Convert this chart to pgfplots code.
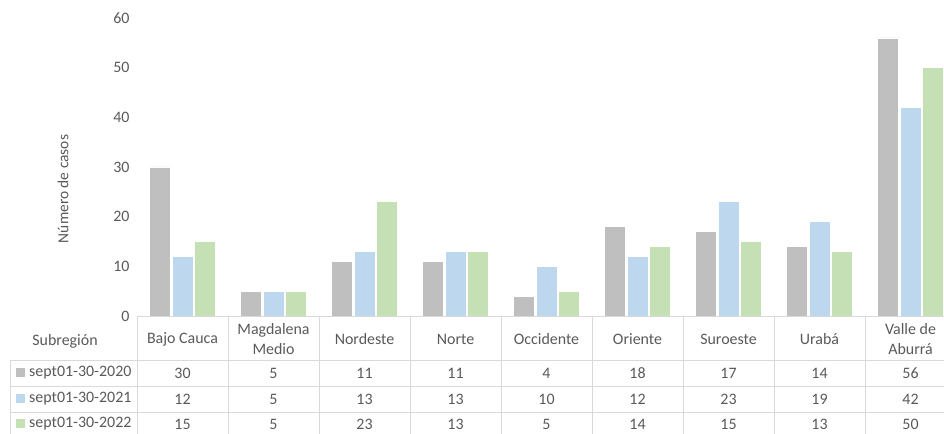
\documentclass[border=0pt]{standalone}
\usepackage{pgfplots}
\pgfplotsset{compat=1.18}
\usepackage{fontspec}
\setmainfont{Carlito}
\definecolor{txt}{HTML}{595959}
\definecolor{cA}{HTML}{BFBFBF}
\definecolor{cB}{HTML}{BDD7EE}
\definecolor{cC}{HTML}{C5E0B4}
\definecolor{gridc}{HTML}{D9D9D9}
\newcommand{\tf}{\fontsize{16}{19.5}\selectfont}
\begin{document}
\begin{tikzpicture}[x=1bp,y=1bp]
\useasboundingbox (0,0) rectangle (944,434);
\clip (0,0) rectangle (944,434);
\begin{axis}[
  at={(137bp,118bp)}, anchor=south west,
  scale only axis, width=819bp, height=298bp,
  xmin=-0.5, xmax=8.5, ymin=0, ymax=60,
  ybar=1.5bp, bar width=21bp,
  axis line style={draw=none}, major tick length=0pt,
  xtick=\empty, ytick={0,10,...,60},
  yticklabel style={font=\tf, text=txt, xshift=-4bp},
  /pgf/number format/assume math mode=true,
  clip=false,
]
\addplot[fill=cA, draw=white, line width=0.6bp] coordinates {(0,30) (1,5) (2,11) (3,11) (4,4) (5,18) (6,17) (7,14) (8,56)};
\addplot[fill=cB, draw=white, line width=0.6bp] coordinates {(0,12) (1,5) (2,13) (3,13) (4,10) (5,12) (6,23) (7,19) (8,42)};
\addplot[fill=cC, draw=white, line width=0.6bp] coordinates {(0,15) (1,5) (2,23) (3,13) (4,5) (5,14) (6,15) (7,13) (8,50)};
\end{axis}
% y label
\node[rotate=90, font=\fontsize{15.5}{19}\selectfont, text=txt] at (63,245) {Número de casos};
% table grid
\draw[gridc, line width=1bp] (137,117) -- (944,117);
\foreach \yy in {73,47,21} \draw[gridc, line width=1bp] (10,\yy) -- (944,\yy);
\draw[gridc, line width=1bp] (10,73) -- (10,0);
\foreach \k in {0,...,8} \draw[gridc, line width=1bp] (137+91*\k,117) -- (137+91*\k,0);
% header
\node[font=\tf, text=txt] at (65,93) {Subregión};
\foreach \n [count=\i from 0] in {Bajo Cauca,{Magdalena\\Medio},Nordeste,Norte,Occidente,Oriente,Suroeste,Urabá,{Valle de\\Aburrá}}
  \node[font=\tf, text=txt, align=center] at (182.5+91*\i,95) {\n};
% legend rows
\fill[cA] (16,56.5) rectangle (25,65.5);
\fill[cB] (16,30.5) rectangle (25,39.5);
\fill[cC] (16,5.5) rectangle (25,14.5);
\node[font=\tf, text=txt, anchor=west, inner sep=0pt] at (29,61) {sept01-30-2020};
\node[font=\tf, text=txt, anchor=west, inner sep=0pt] at (29,35) {sept01-30-2021};
\node[font=\tf, text=txt, anchor=west, inner sep=0pt] at (29,10) {sept01-30-2022};
\foreach \v [count=\i from 0] in {30,5,11,11,4,18,17,14,56}
  \node[font=\tf, text=txt] at (182.5+91*\i,61) {\v};
\foreach \v [count=\i from 0] in {12,5,13,13,10,12,23,19,42}
  \node[font=\tf, text=txt] at (182.5+91*\i,35) {\v};
\foreach \v [count=\i from 0] in {15,5,23,13,5,14,15,13,50}
  \node[font=\tf, text=txt] at (182.5+91*\i,10) {\v};
\end{tikzpicture}
\end{document}
